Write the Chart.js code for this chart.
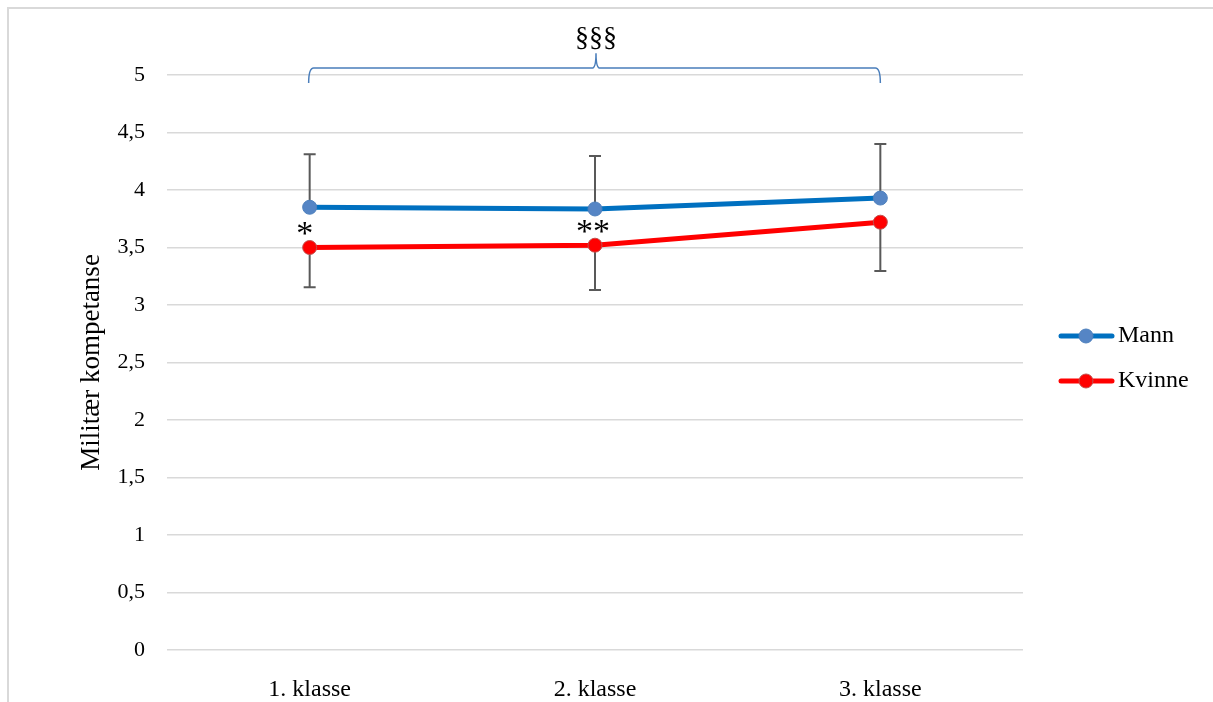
<!DOCTYPE html>
<html>
<head>
<meta charset="utf-8">
<script src="https://cdn.jsdelivr.net/npm/chart.js@4"></script>
<style>
  html, body { margin: 0; background: #fff; overflow: hidden; }
  #wrap { position: relative; width: 1213px; height: 702px; overflow: hidden; }
  .rule { position: absolute; background: #d9d9d9; }
  #ruleTop { left: 7px; top: 7px; width: 1206px; height: 2px; }
  #ruleLeft { left: 7px; top: 7px; width: 2px; height: 695px; }
  canvas { position: absolute; left: 0; top: 0; }
</style>
</head>
<body>
<div id="wrap">
  <div class="rule" id="ruleTop"></div>
  <div class="rule" id="ruleLeft"></div>
  <canvas id="myChart" width="1213" height="702"></canvas>
</div>
<script>
const categories = ["1. klasse", "2. klasse", "3. klasse"];
const mann = [3.85, 3.835, 3.93];
const kvinne = [3.50, 3.52, 3.72];
// error bars: Mann shown upwards, Kvinne downwards
const mannUpper = [4.31, 4.295, 4.40];
const kvinneLower = [3.155, 3.13, 3.295];
const stars = ["*", "**", ""];
const yTicks = [0, 0.5, 1, 1.5, 2, 2.5, 3, 3.5, 4, 4.5, 5];

const serif = "'Liberation Serif', 'Times New Roman', serif";

const errorBars = {
  id: "errorBars",
  beforeDatasetsDraw(chart) {
    const { ctx, scales: { x, y } } = chart;
    ctx.save();
    ctx.strokeStyle = "#595959";
    ctx.lineWidth = 2;
    const draw = (i, from, to) => {
      const px = x.getPixelForValue(i);
      const y0 = y.getPixelForValue(from);
      const y1 = y.getPixelForValue(to);
      ctx.beginPath();
      ctx.moveTo(px, y0);
      ctx.lineTo(px, y1);
      ctx.moveTo(px - 6, y1);
      ctx.lineTo(px + 6, y1);
      ctx.stroke();
    };
    categories.forEach((c, i) => {
      draw(i, mann[i], mannUpper[i]);
      draw(i, kvinne[i], kvinneLower[i]);
    });
    ctx.restore();
  },
  afterDatasetsDraw(chart) {
    const { ctx, scales: { x, y } } = chart;
    ctx.save();
    // significance stars
    ctx.fillStyle = "#000";
    ctx.font = "34px " + serif;
    ctx.textAlign = "center";
    ctx.textBaseline = "middle";
    stars.forEach((s, i) => {
      if (!s) return;
      ctx.fillText(s, x.getPixelForValue(i) - (s.length === 1 ? 5 : 2), y.getPixelForValue(kvinne[i]) - 12);
    });

    // brace over the three groups
    const xl = x.getPixelForValue(0) - 1;
    const xr = x.getPixelForValue(2);
    const xm = (x.getPixelForValue(1) + 1);
    const yLine = y.getPixelForValue(5.06);
    const yFoot = y.getPixelForValue(4.93);
    const yTip = y.getPixelForValue(5.19);
    ctx.strokeStyle = "#4a7ebb";
    ctx.lineWidth = 1.5;
    ctx.beginPath();
    ctx.moveTo(xl, yFoot);
    ctx.quadraticCurveTo(xl, yLine, xl + 5, yLine);
    ctx.lineTo(xm - 4, yLine);
    ctx.quadraticCurveTo(xm, yLine, xm, yTip);
    ctx.quadraticCurveTo(xm, yLine, xm + 4, yLine);
    ctx.lineTo(xr - 5, yLine);
    ctx.quadraticCurveTo(xr, yLine, xr, yFoot);
    ctx.stroke();

    ctx.fillStyle = "#000";
    ctx.font = "28px " + serif;
    ctx.fillText("§§§", xm, y.getPixelForValue(5.32));

    // legend
    chart.data.datasets.forEach((ds, i) => {
      const ly = 336 + i * 45;
      ctx.strokeStyle = ds.borderColor;
      ctx.lineWidth = 5;
      ctx.lineCap = "round";
      ctx.beginPath();
      ctx.moveTo(1061, ly);
      ctx.lineTo(1112, ly);
      ctx.stroke();
      ctx.beginPath();
      ctx.arc(1086, ly, 7, 0, Math.PI * 2);
      ctx.fillStyle = ds.pointBackgroundColor;
      ctx.fill();
      ctx.lineWidth = 1;
      ctx.strokeStyle = ds.pointBorderColor;
      ctx.stroke();
      ctx.fillStyle = "#000";
      ctx.font = "24px " + serif;
      ctx.textAlign = "left";
      ctx.fillText(ds.label, 1118, ly);
    });
    ctx.restore();
  }
};

const ctx = document.getElementById("myChart");
const chart = new Chart(ctx, {
  type: "line",
  data: {
    labels: categories,
    datasets: [
      {
        label: "Mann",
        data: mann,
        borderColor: "#0070c0",
        borderWidth: 5,
        pointRadius: 7,
        pointBackgroundColor: "#5585c5",
        pointBorderColor: "#4f81bd",
        pointBorderWidth: 1,
      },
      {
        label: "Kvinne",
        data: kvinne,
        borderColor: "#ff0000",
        borderWidth: 5,
        pointRadius: 7,
        pointBackgroundColor: "#ff0000",
        pointBorderColor: "#c0504d",
        pointBorderWidth: 1,
      },
    ],
  },
  options: {
    responsive: false,
    animation: false,
    layout: {
      padding: { top: 75, right: 190, left: 0, bottom: 0 },
    },
    plugins: {
      legend: { display: false },
      tooltip: { enabled: false },
    },
    scales: {
      x: {
        offset: true,
        grid: { display: false },
        border: { display: false },
        ticks: {
          color: "#000",
          padding: 17,
          font: { family: serif, size: 24 },
        },
        afterFit(scale) { scale.height = 52; },
      },
      y: {
        min: 0,
        max: 5,
        afterBuildTicks(scale) { scale.ticks = yTicks.map((v) => ({ value: v })); },
        grid: { color: "#d9d9d9", lineWidth: 1.5, drawTicks: false },
        border: { display: false },
        ticks: {
          color: "#000",
          padding: 22,
          font: { family: serif, size: 22 },
          callback: (v) => String(v).replace(".", ","),
        },
        title: {
          display: true,
          text: "Militær kompetanse",
          color: "#000",
          font: { family: serif, size: 27 },
          padding: { top: 76, bottom: 0 },
        },
        afterFit(scale) { scale.width = 167; },
      },
    },
  },
  plugins: [errorBars],
});
</script>
</body>
</html>
